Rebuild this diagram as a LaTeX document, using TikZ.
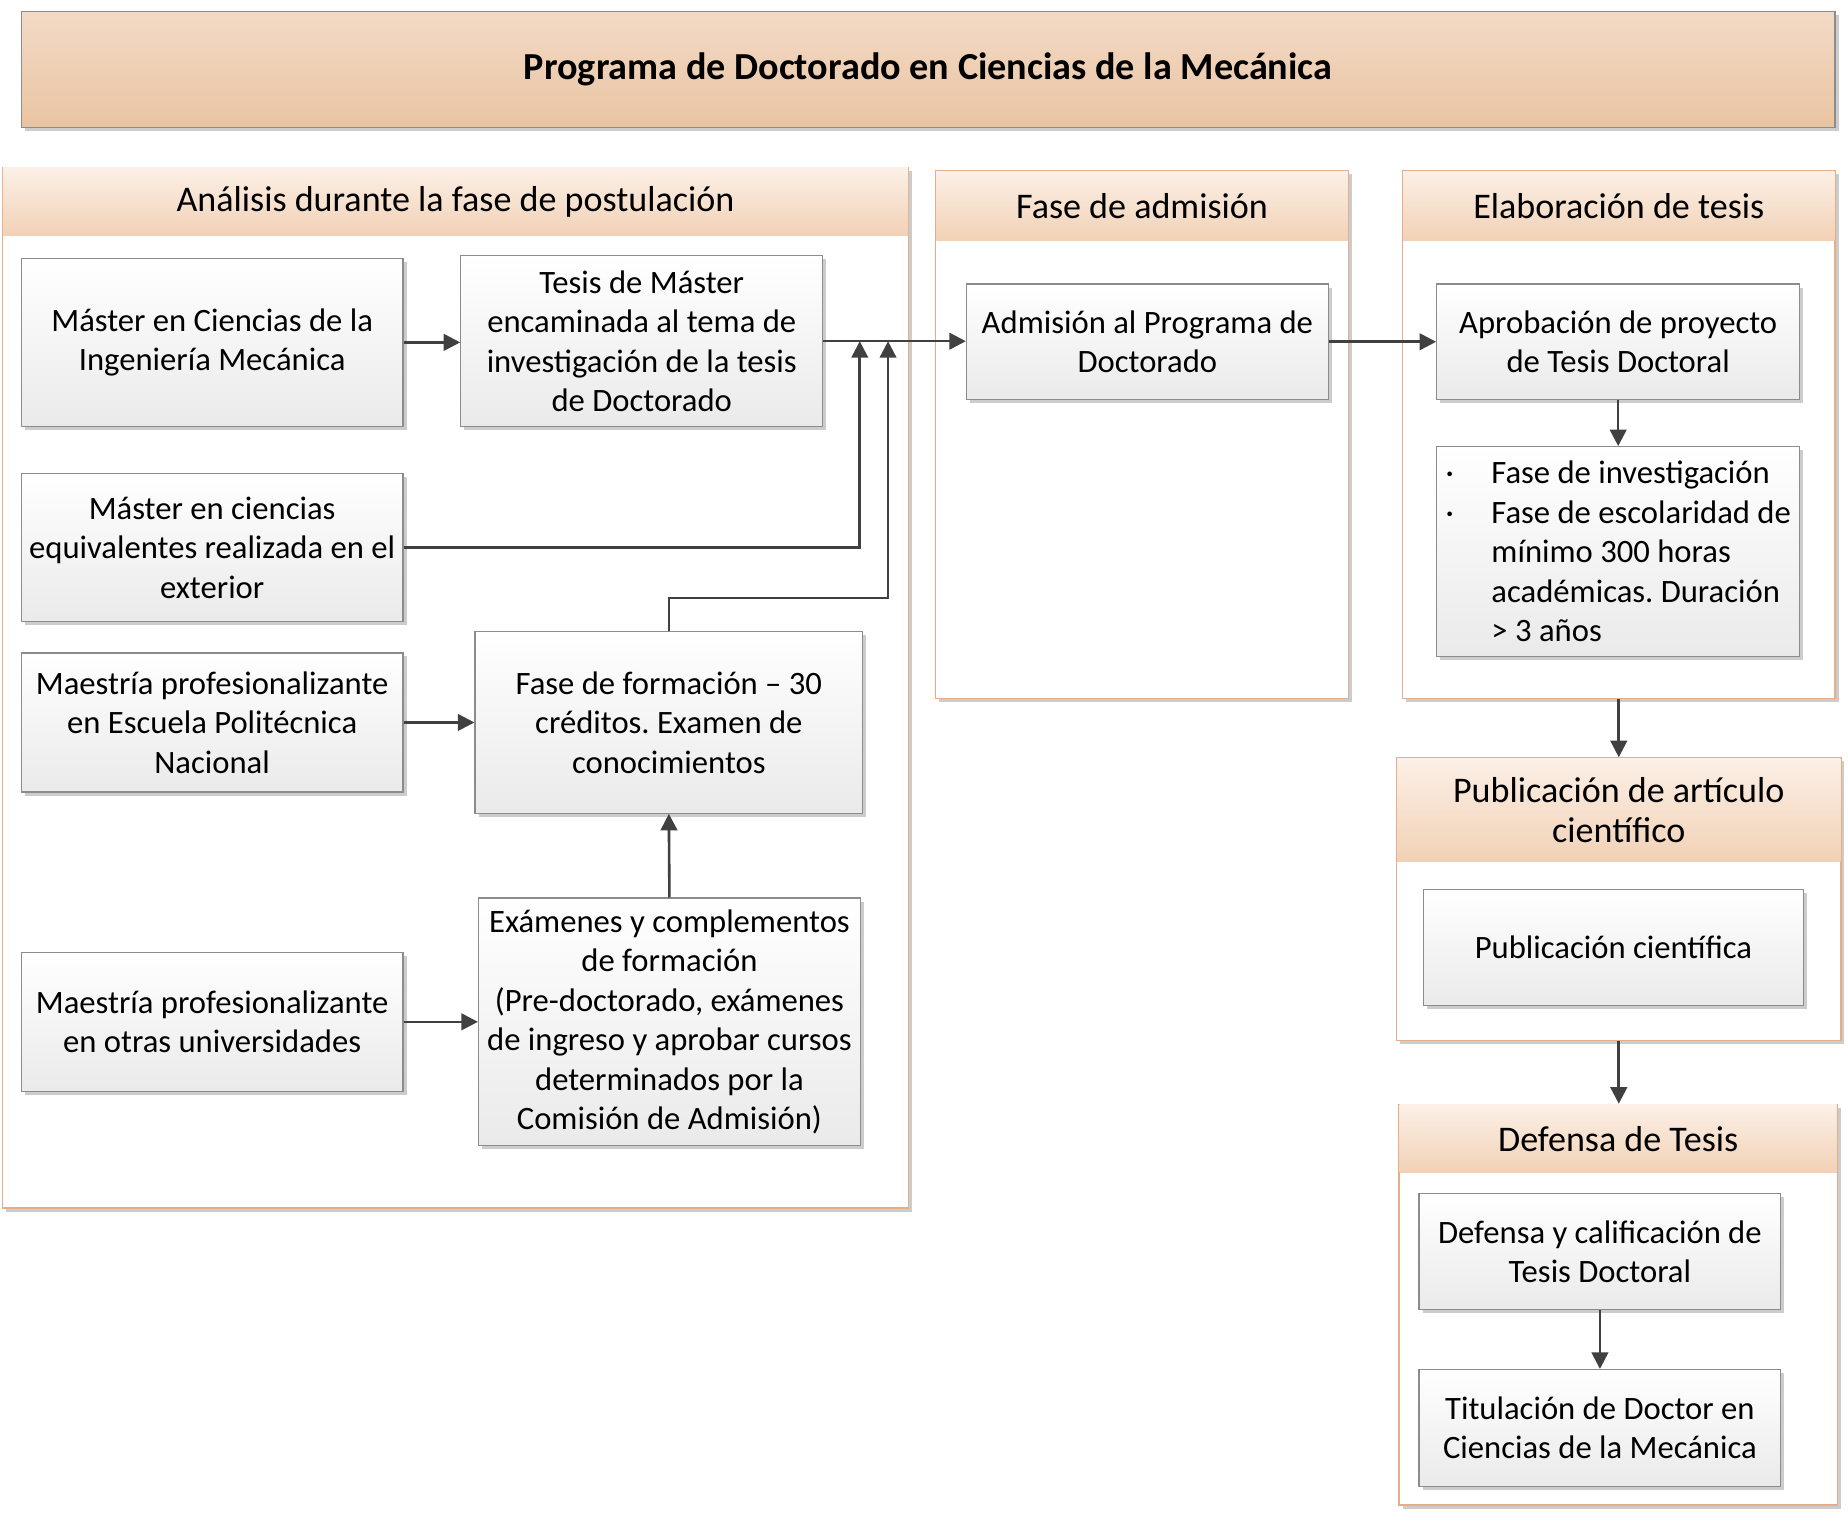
\documentclass[tikz,border=0pt]{standalone}
\usepackage{fontspec}
\setmainfont{Carlito}
\usepackage{tikz}
\usetikzlibrary{calc, shadows, arrows.meta}
\frenchspacing

\definecolor{titleTop}{HTML}{F3DAC6}
\definecolor{titleBot}{HTML}{E9C4A2}
\definecolor{headTop}{HTML}{FCF0E7}
\definecolor{headBot}{HTML}{F1D1B5}
\definecolor{panelLine}{HTML}{E5AE88}
\definecolor{boxLine}{HTML}{8C8C8C}
\definecolor{boxBot}{HTML}{EAEAEA}
\definecolor{arrowCol}{HTML}{404040}

\begin{document}
\begin{tikzpicture}[
	x=1pt, y=-1pt,
	every node/.style={font=\fontsize{27.7}{33.5}\selectfont, align=center, inner sep=0pt},
	shade/.style={drop shadow={shadow xshift=3pt, shadow yshift=-3pt, opacity=.2, fill=black}},
	titleBox/.style={draw=boxLine, line width=1pt, top color=titleTop, bottom color=titleBot, shade, font=\fontsize{32.4}{38}\selectfont\bfseries},
	panel/.style={draw=panelLine, line width=1pt, fill=white, shade},
	head/.style={top color=headTop, bottom color=headBot, font=\fontsize{30.6}{34}\selectfont},
	box/.style={draw=boxLine, line width=1pt, top color=white, bottom color=boxBot, shade},
	arrow/.style={arrowCol, line width=2.2pt, -{Triangle[length=14pt, width=14pt]}}
	]
	
	\useasboundingbox (0,0) rectangle (1568,1290);
	
	% Title
	\node[titleBox, minimum width=1539pt, minimum height=98pt] (title) at (787.5,59) {Programa de Doctorado en Ciencias de la Mecánica};
	
	% Panels
	\node[panel, minimum width=769pt, minimum height=883pt] (postul) at (386.5,583.5) {};
	\node[head, anchor=north, minimum width=768pt, minimum height=58pt] (postulH) at ($(postul.north) + (0,.5)$) {Análisis durante la fase de postulación};
	\node[panel, minimum width=350pt, minimum height=448pt] (admis) at (969,369) {};
	\node[head, anchor=north, minimum width=349pt, minimum height=59pt] (admisH) at ($(admis.north) + (0,.5)$) {Fase de admisión};
	\node[panel, minimum width=367pt, minimum height=448pt] (elab) at (1373.5,369) {};
	\node[head, anchor=north, minimum width=366pt, minimum height=59pt] (elabH) at ($(elab.north) + (0,.5)$) {Elaboración de tesis};
	\node[panel, minimum width=377pt, minimum height=240pt] (pub) at (1373.5,763) {};
	\node[head, anchor=north, minimum width=376pt, minimum height=88pt] (pubH) at ($(pub.north) + (0,.5)$) {Publicación de artículo\\científico};
	\node[panel, minimum width=372pt, minimum height=340pt] (defensa) at (1373,1107) {};
	\node[head, anchor=north, minimum width=371pt, minimum height=58pt] (defensaH) at ($(defensa.north) + (0,.5)$) {Defensa de Tesis};
	
	% Postulacion
	\node[box, minimum width=324pt, minimum height=143pt] (mca) at (180,290.5) {Máster en Ciencias de la\\Ingeniería Mecánica};
	\node[box, minimum width=307pt, minimum height=145pt] (tesis) at (544.5,289.5) {Tesis de Máster\\encaminada al tema de\\investigación de la tesis\\de Doctorado};
	\node[box, minimum width=324pt, minimum height=125pt] (equiv) at (180,464.5) {Máster en ciencias\\equivalentes realizada en el\\exterior};
	\node[box, minimum width=324pt, minimum height=118pt] (mepn) at (180,613) {Maestría profesionalizante\\en Escuela Politécnica\\Nacional};
	\node[box, minimum width=329pt, minimum height=154pt] (form) at (567.5,613) {Fase de formación – 30\\créditos. Examen de\\conocimientos};
	\node[box, minimum width=324pt, minimum height=118pt] (motras) at (180,867) {Maestría profesionalizante\\en otras universidades};
	\node[box, minimum width=324pt, minimum height=210pt] (exam) at (568,867) {Exámenes y complementos\\de formación\\(Pre-doctorado, exámenes\\de ingreso y aprobar cursos\\determinados por la\\Comisión de Admisión)};
	
	% Admision y tesis
	\node[box, minimum width=307pt, minimum height=98pt] (adm) at (973.5,290) {Admisión al Programa de\\Doctorado};
	\node[box, minimum width=308pt, minimum height=98pt] (aprob) at (1373,290) {Aprobación de proyecto\\de Tesis Doctoral};
	\node[box, minimum width=308pt, minimum height=178pt, align=left] (fases) at (1373,468) {\makebox[39pt][l]{·}Fase de investigación\\\makebox[39pt][l]{·}Fase de escolaridad de\\\hspace*{39pt}mínimo 300 horas\\\hspace*{39pt}académicas. Duración\\\hspace*{39pt}> 3 años};
	
	% Publicacion y defensa
	\node[box, minimum width=322pt, minimum height=98pt] (pubc) at (1369,804) {Publicación científica};
	\node[box, minimum width=307pt, minimum height=98pt] (defc) at (1357.5,1062) {Defensa y calificación de\\Tesis Doctoral};
	\node[box, minimum width=307pt, minimum height=99pt] (titul) at (1357.5,1211.5) {Titulación de Doctor en\\Ciencias de la Mecánica};
	
	\coordinate (j1) at ($(tesis.east) + (31,0)$);
	\coordinate (j2) at ($(tesis.east) + (55,0)$);
	
	% Connectors
	\draw[arrow] (mca.east) -- (mca.east -| tesis.west);
	\draw[arrow] (tesis.east) -- (tesis.east -| adm.west);
	\draw[arrow] (equiv.east) -| (j1);
	\draw[arrow] (form.north) -- ++(0,-28) -| (j2);
	\draw[arrow] (mepn.east) -- (mepn.east -| form.west);
	\draw[arrow] (motras.east) -- (motras.east -| exam.west);
	\draw[arrow] (exam.north) -- (form.south);
	\draw[arrow] (adm.east) -- (aprob.west);
	\draw[arrow] (aprob.south) -- (fases.north);
	\draw[arrow] (elab.south) -- (pub.north);
	\draw[arrow] (pub.south) -- (pub.south |- defensa.north);
	\draw[arrow] (defc.south) -- (titul.north);
\end{tikzpicture}
\end{document}
